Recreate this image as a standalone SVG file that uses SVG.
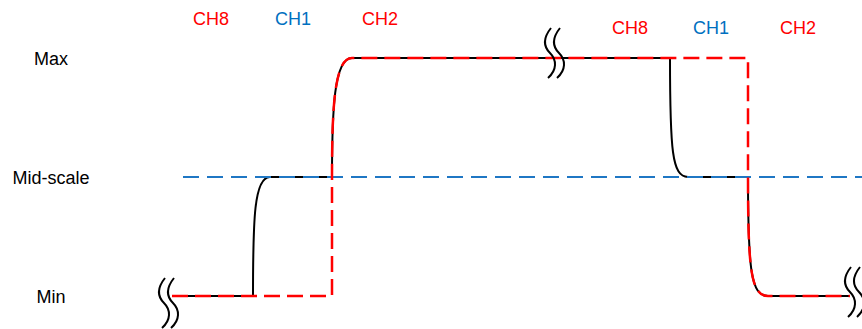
<svg xmlns="http://www.w3.org/2000/svg" width="862" height="329" viewBox="0 0 862 329">
  <style>
    text { font-family: "Liberation Sans", Arial, sans-serif; font-size: 18px; }
    .lbl { fill: #000000; }
    .red { fill: #FF0000; }
    .blue { fill: #0070C0; }
    .trace { fill: none; stroke: #000000; stroke-width: 2; stroke-linejoin: round; }
    .ideal { fill: none; stroke: #FF0000; stroke-width: 2.5; stroke-dasharray: 16 7; }
    .mid { fill: none; stroke: #1F77C4; stroke-width: 2; stroke-dasharray: 16 8; }
    .brk { fill: none; stroke: #000000; stroke-width: 2; }
  </style>
  <defs>
    <!-- axis-break mark: two wavy strokes -->
    <g id="break">
      <path class="brk" d="M3,0 C-5,10 -5,18 2,25 C9,32 9,42 0,50"/>
      <path class="brk" d="M12,0 C4,10 4,18 11,25 C18,32 18,42 9,50"/>
    </g>
  </defs>

  <!-- level labels -->
  <g id="levels">
    <text class="lbl" x="34" y="64.5">Max</text>
    <text class="lbl" x="12.5" y="183.5">Mid-scale</text>
    <text class="lbl" x="36.5" y="302.5">Min</text>
  </g>

  <!-- channel labels -->
  <g id="channels">
    <text class="red" x="193" y="24.5">CH8</text>
    <text class="blue" x="275" y="24.5">CH1</text>
    <text class="red" x="362" y="24.5">CH2</text>
    <text class="red" x="612" y="34">CH8</text>
    <text class="blue" x="693" y="34">CH1</text>
    <text class="red" x="780" y="34">CH2</text>
  </g>

  <!-- waveforms -->
  <g id="traces">
    <!-- actual output -->
    <path class="trace" d="M172,296 H253 C253,220 254,177 270,177 H332 C332,110 334,58 352,58 H670 C670,150 672,177 688,177 H748 C748,270 751,296 768,296 H850"/>
    <!-- mid-scale reference -->
    <path class="mid" d="M183,177 H862"/>
    <!-- ideal output -->
    <path class="ideal" d="M172,296 H332 V177 C332,110 334,58 352,58 H748 V177 C748,270 751,296 768,296 H850"/>
  </g>

  <!-- axis breaks -->
  <g id="breaks">
    <use href="#break" x="162" y="278"/>
    <use href="#break" x="548" y="28"/>
    <use href="#break" x="848" y="267"/>
  </g>
</svg>
